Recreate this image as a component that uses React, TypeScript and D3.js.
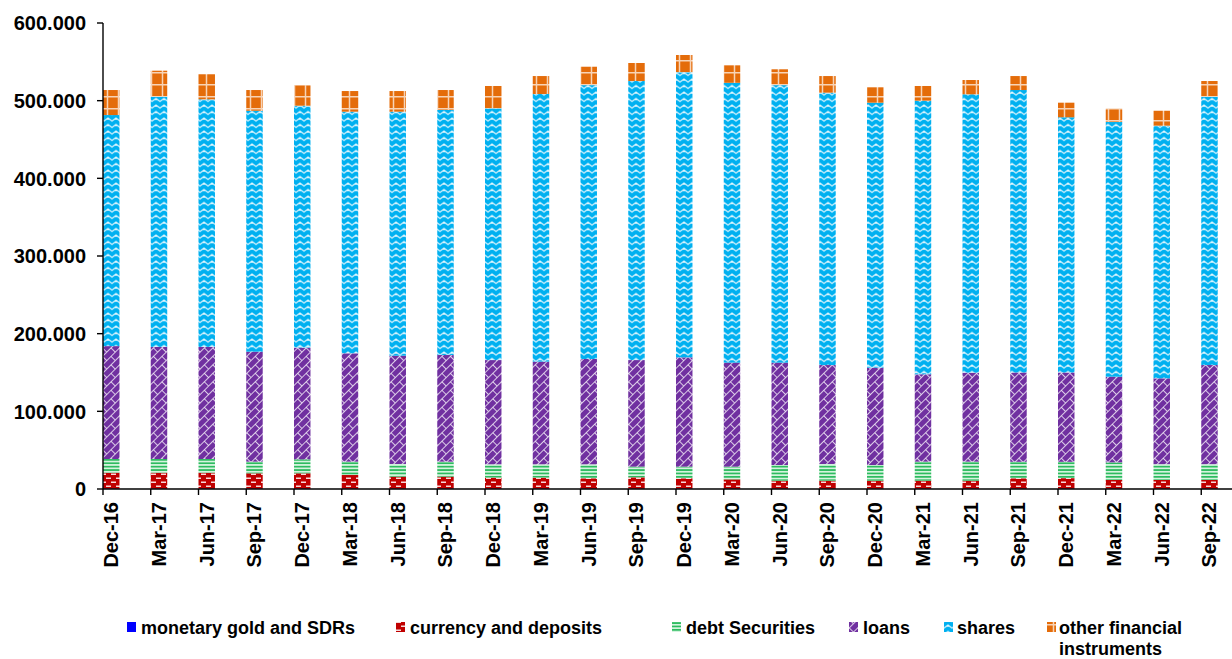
import React from "react";
import * as d3 from "d3";

const categories = [
  "Dec-16", "Mar-17", "Jun-17", "Sep-17", "Dec-17", "Mar-18", "Jun-18", "Sep-18",
  "Dec-18", "Mar-19", "Jun-19", "Sep-19", "Dec-19", "Mar-20", "Jun-20", "Sep-20",
  "Dec-20", "Mar-21", "Jun-21", "Sep-21", "Dec-21", "Mar-22", "Jun-22", "Sep-22",
];

// values in thousands
const monetaryGold = [0.4, 0.4, 0.4, 0.4, 0.4, 0.4, 0.4, 0.4, 0.4, 0.4, 0.4, 0.4, 0.4, 0.4, 0.4, 0.4, 0.4, 0.4, 0.4, 0.4, 0.4, 0.4, 0.4, 0.4];
const currencyDeposits = [20.6, 20.6, 20.6, 19.8, 19.8, 17.6, 15.5, 15.5, 14.2, 14.2, 13.4, 14.6, 13.4, 12.0, 10.3, 10.3, 10.3, 10.3, 10.3, 13.4, 13.6, 11.2, 11.2, 11.2];
const debtSecurities = [17.6, 17.6, 17.6, 15.0, 18.0, 17.2, 16.3, 19.3, 17.2, 17.2, 18.0, 13.8, 15.0, 16.4, 20.2, 21.5, 20.2, 24.5, 24.5, 21.2, 21.0, 22.7, 20.4, 20.4];
const loans = [145.4, 144.4, 144.4, 141.6, 143.8, 139.5, 139.5, 137.3, 134.2, 132.2, 135.6, 137.2, 140.7, 133.9, 131.8, 127.4, 125.3, 112.5, 114.6, 115.0, 115.0, 110.3, 110.5, 127.6];
const shares = [297.5, 322.0, 318.7, 310.2, 311.5, 311.1, 314.1, 315.5, 324.0, 344.6, 352.6, 359.3, 367.0, 360.3, 357.3, 350.7, 341.2, 352.3, 358.4, 363.7, 328.6, 327.9, 325.3, 345.4];
const otherFinancial = [32.2, 33.6, 32.3, 26.7, 26.5, 26.6, 26.6, 25.7, 28.9, 23.1, 23.7, 23.2, 22.3, 22.5, 20.4, 21.4, 19.8, 18.9, 18.4, 18.0, 18.8, 17.5, 19.2, 20.3];

const seriesNames = [
  "monetary gold and SDRs",
  "currency and deposits",
  "debt Securities",
  "loans",
  "shares",
  "other financial instruments",
];

const yTickValues = [0, 100, 200, 300, 400, 500, 600];
const yTickLabels = ["0", "100.000", "200.000", "300.000", "400.000", "500.000", "600.000"];

const keys = ["gold", "currency", "debt", "loans", "shares", "other"];
const fills = [
  "#0000ff",
  "url(#pCurrency)",
  "url(#pDebt)",
  "url(#pLoans)",
  "url(#pShares)",
  "url(#pOther)",
];

const FONT = "'Liberation Sans', Arial, Helvetica, sans-serif";

export default function App() {
  const W = 1232;
  const H = 659;
  const x0 = 103;
  const step = 47.75;
  const x = d3
    .scaleBand<string>()
    .domain(categories)
    .range([x0, x0 + step * categories.length])
    .paddingInner(0)
    .paddingOuter(0);
  const y = d3.scaleLinear().domain([0, 600]).range([489, 23]);
  const barW = x.bandwidth() * 0.345;

  const rows = categories.map((c, i) => ({
    cat: c,
    gold: monetaryGold[i],
    currency: currencyDeposits[i],
    debt: debtSecurities[i],
    loans: loans[i],
    shares: shares[i],
    other: otherFinancial[i],
  }));
  const stacked = d3.stack<any>().keys(keys)(rows);

  const legendX = [127, 396, 672, 849, 944, 1047];
  const legendTextDx = [14, 14, 14, 14, 13, 12];
  const legendY = 634;

  return (
    <svg
      width={W}
      height={H}
      style={{ position: "absolute", left: 0, top: 0, display: "block", background: "#fff" }}
    >
      <defs>
        <pattern id="pCurrency" patternUnits="userSpaceOnUse" width="10" height="8">
          <rect width="10" height="8" fill="#c00000" />
          <rect x="1" y="1.5" width="5" height="1.5" fill="#ffffff" opacity="0.85" />
          <rect x="6" y="5.5" width="5" height="1.5" fill="#ffffff" opacity="0.85" />
          <rect x="-4" y="5.5" width="5" height="1.5" fill="#ffffff" opacity="0.85" />
        </pattern>
        <pattern id="pDebt" patternUnits="userSpaceOnUse" width="6" height="3.4">
          <rect width="6" height="3.4" fill="#d4f3de" />
          <rect y="0" width="6" height="1.7" fill="#2dbb5f" />
        </pattern>
        <pattern id="pLoans" patternUnits="userSpaceOnUse" width="12" height="12" patternTransform="rotate(-45)">
          <rect width="12" height="12" fill="#7030a0" />
          <path d="M0 0.5 H12 M0 6.5 H12 M0.5 0.5 V6.5 M6.5 6.5 V12.5" stroke="#ffffff" strokeWidth="1" opacity="0.75" fill="none" />
        </pattern>
        <pattern id="pShares" patternUnits="userSpaceOnUse" width="8" height="6.5">
          <rect width="8" height="6.5" fill="#00b0f0" />
          <path d="M-1 4.8 L0 4 L4 1 L8 4 L9 4.8" stroke="#ffffff" strokeWidth="1.3" opacity="0.85" fill="none" />
        </pattern>
        <pattern id="pOther" patternUnits="userSpaceOnUse" width="11" height="12">
          <rect width="11" height="12" fill="#e46c0a" />
          <path d="M0 0.75 H11 M8.5 0 V12" stroke="#ffffff" strokeWidth="1.5" opacity="0.7" fill="none" />
        </pattern>
      </defs>

      {/* bars */}
      {stacked.map((s, si) => (
        <g key={s.key} fill={fills[si]}>
          {s.map((d, i) => (
            <rect
              key={i}
              x={x(categories[i])!}
              y={y(d[1])}
              width={barW}
              height={Math.max(0, y(d[0]) - y(d[1]))}
            />
          ))}
        </g>
      ))}

      {/* y axis */}
      <line x1={x0} x2={x0} y1={y(600)} y2={y(0)} stroke="#000" strokeWidth={1.4} />
      {yTickValues.map((v, i) => (
        <g key={v}>
          <line x1={x0 - 6} x2={x0} y1={y(v)} y2={y(v)} stroke="#000" strokeWidth={1.4} />
          <text
            x={86}
            y={y(v)}
            dy="0.36em"
            textAnchor="end"
            fontFamily={FONT}
            fontWeight="bold"
            fontSize={20}
            fill="#000"
          >
            {yTickLabels[i]}
          </text>
        </g>
      ))}

      {/* x axis */}
      <line x1={x0} x2={W} y1={y(0)} y2={y(0)} stroke="#000" strokeWidth={1.4} />
      {categories.map((c) => (
        <line key={"t" + c} x1={x(c)!} x2={x(c)!} y1={y(0)} y2={y(0) + 6} stroke="#000" strokeWidth={1.4} />
      ))}
      {categories.map((c) => (
        <text
          key={"l" + c}
          transform={`translate(${x(c)! + 8},${502}) rotate(-90)`}
          textAnchor="end"
          dy="0.36em"
          fontFamily={FONT}
          fontWeight="bold"
          fontSize={20}
          fill="#000"
        >
          {c}
        </text>
      ))}

      {/* legend */}
      {seriesNames.map((name, i) => {
        const lx = legendX[i];
        const parts = i === 5 ? ["other financial", "instruments"] : [name];
        return (
          <g key={name}>
            <rect x={lx} y={legendY - 12} width={9} height={10} fill={fills[i]} />
            <text
              x={lx + legendTextDx[i]}
              y={legendY}
              fontFamily={FONT}
              fontWeight="bold"
              fontSize={18}
              fill="#000"
            >
              {parts.map((p, k) => (
                <tspan key={k} x={lx + legendTextDx[i]} dy={k === 0 ? 0 : 21}>
                  {p}
                </tspan>
              ))}
            </text>
          </g>
        );
      })}
    </svg>
  );
}
